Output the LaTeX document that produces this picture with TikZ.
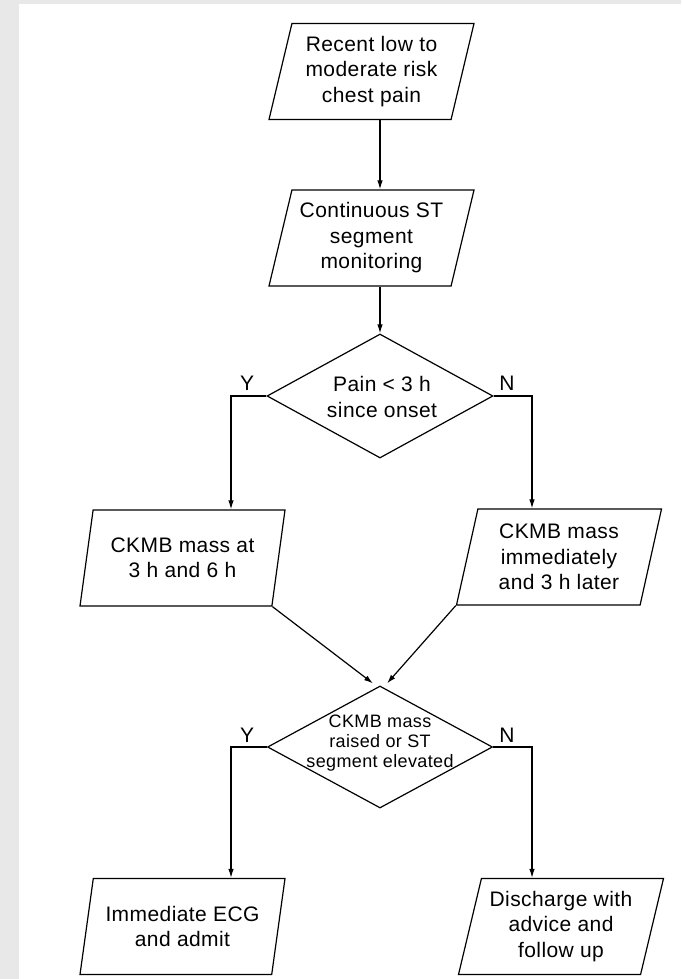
\documentclass[tikz,border=0pt]{standalone}
\usepackage{fontspec}
\setmainfont{Liberation Sans}[LetterSpace=2]
\usetikzlibrary{shapes.geometric,arrows.meta,calc}
\begin{document}
\begin{tikzpicture}[x=1pt,y=-1pt,
  every node/.style={font=\fontsize{21}{25.5}\selectfont, align=center, text=black},
  para/.style={trapezium, trapezium left angle=72, trapezium right angle=108,
    trapezium stretches body, draw, line width=1.2pt,
    minimum width=205pt, minimum height=96pt, inner sep=0pt},
  dia/.style={diamond, draw, line width=1.2pt, inner sep=0pt},
  smalltxt/.style={font=\fontsize{18}{20}\selectfont},
  arr/.style={line width=1.2pt, -{Latex[length=9pt,width=5.5pt]}}]
\fill[black!9] (0,0) rectangle (681,979);
\fill[white] (19,4) rectangle (681,979);
\useasboundingbox (0,0) rectangle (681,979);

\node[para] (b1) at (371.5,71.5) {Recent low to\\moderate risk\\chest pain};
\node[para] (b2) at (371.5,238) {Continuous ST\\segment\\monitoring};
\node[dia, minimum width=226pt, minimum height=124pt] (d1) at (380,396) {};
\node (d1t) at (382,397) {Pain < 3 h\\since onset};
\node[para] (b3) at (182.5,558) {CKMB mass at\\3 h and 6 h};
\node[para] (b4) at (559,557) {CKMB mass\\immediately\\and 3 h later};
\node[dia, minimum width=225pt, minimum height=122pt] (d2) at (380,747) {};
\node[smalltxt] (d2t) at (380,743) {CKMB mass\\raised or ST\\segment elevated};
\node[para] (b5) at (182.5,926.5) {Immediate ECG\\and admit};
\node[para] (b6) at (561,926.5) {Discharge with\\advice and\\follow up};

\node (y1) at (247,383) {Y};
\node (n1) at (507,383) {N};
\node (y2) at (247,735) {Y};
\node (n2) at (507,735) {N};

\draw[arr] (b1.south -| d1.north) -- (b2.north -| d1.north);
\draw[arr] (b2.south -| d1.north) -- (d1.north);
\draw[arr] (d1.west) -| ($(b3.north)+(48.5,0)$);
\draw[arr] (d1.east) -| ($(b4.north)+(-27,0)$);
\draw[arr] (b3.bottom right corner) -- ($(d2.north)+(-7,-2)$);
\draw[arr] (b4.bottom left corner) -- ($(d2.north)+(7,-2)$);
\draw[arr] (d2.west) -| ($(b5.north)+(48.5,0)$);
\draw[arr] (d2.east) -| ($(b6.north)+(-29,0)$);
\end{tikzpicture}
\end{document}
